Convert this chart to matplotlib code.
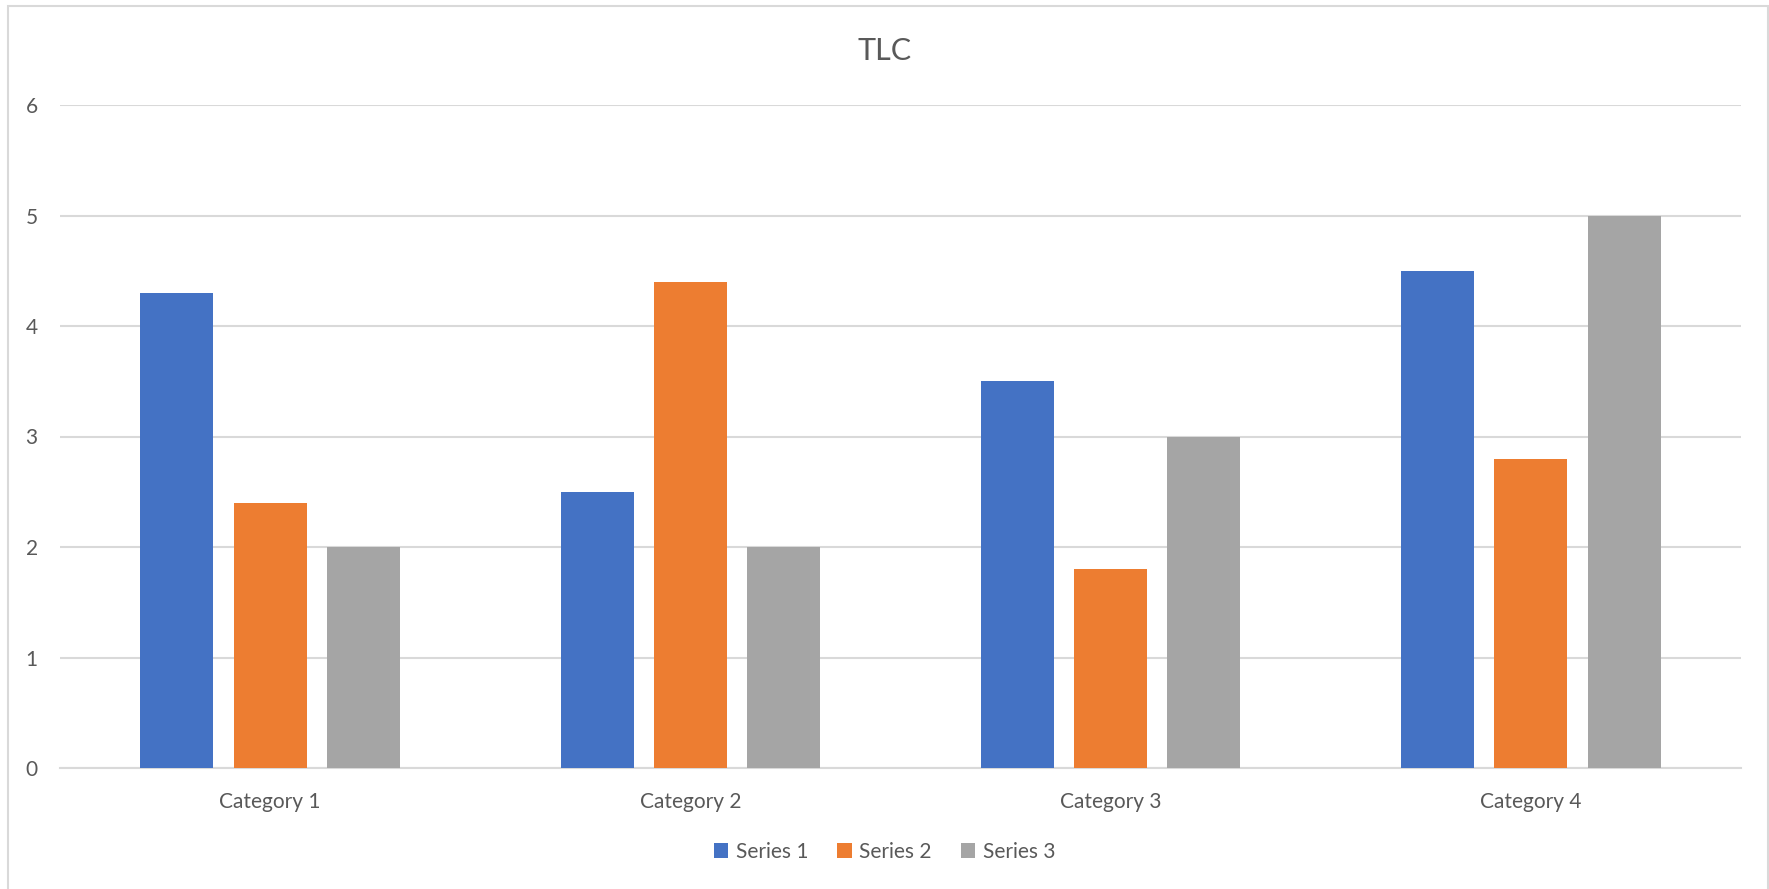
import numpy as np
import matplotlib.pyplot as plt
from matplotlib.patches import Rectangle

categories = ["Category 1", "Category 2", "Category 3", "Category 4"]
series_names = ["Series 1", "Series 2", "Series 3"]
series_1 = [4.3, 2.5, 3.5, 4.5]
series_2 = [2.4, 4.4, 1.8, 2.8]
series_3 = [2, 2, 3, 5]
colors = ["#4472C4", "#ED7D31", "#A5A5A5"]
title = "TLC"

plt.rcParams['font.family'] = ['Lato', 'DejaVu Sans']
text_color = "#595959"
grid_color = "#D9D9D9"

W, H = 1769, 889
fig = plt.figure(figsize=(W / 100, H / 100), dpi=100)

# chart frame (open at the bottom edge)
fig.patches.append(Rectangle((8 / W, -0.05), 1 - 9.5 / W, 1.05 - 6 / H, transform=fig.transFigure,
                             fill=False, edgecolor=grid_color, linewidth=1.5))

ax = fig.add_axes([60 / W, 121 / H, (1741 - 60) / W, 663 / H])
x = np.arange(len(categories))
width = 0.174
step = 0.222
for i, (vals, name) in enumerate(zip([series_1, series_2, series_3], series_names)):
    ax.bar(x + (i - 1) * step, vals, width, color=colors[i], label=name, zorder=3)

ax.set_xlim(-0.5, len(categories) - 0.5)
ax.set_ylim(0, 6)
ax.set_yticks(range(0, 7))
ax.set_xticks(x)
ax.set_xticklabels(categories)
ax.yaxis.grid(True, color=grid_color, linewidth=1.5, zorder=0)
for s in ["top", "right", "left"]:
    ax.spines[s].set_visible(False)
ax.spines["bottom"].set_color(grid_color)
ax.spines["bottom"].set_linewidth(1.5)
ax.tick_params(axis="both", length=0, colors=text_color, labelsize=15)
ax.tick_params(axis="y", pad=16)
ax.tick_params(axis="x", pad=17)

fig.text(0.5, 1 - 51 / H, title, ha="center", va="center", fontsize=22, color=text_color)

fig.legend(loc="center", bbox_to_anchor=(0.5, 1 - 852 / H), ncol=3, frameon=False,
           fontsize=15, labelcolor=text_color, handlelength=0.7, handleheight=0.7,
           handletextpad=0.35, columnspacing=1.4)

fig.savefig("out.png", dpi=100)
